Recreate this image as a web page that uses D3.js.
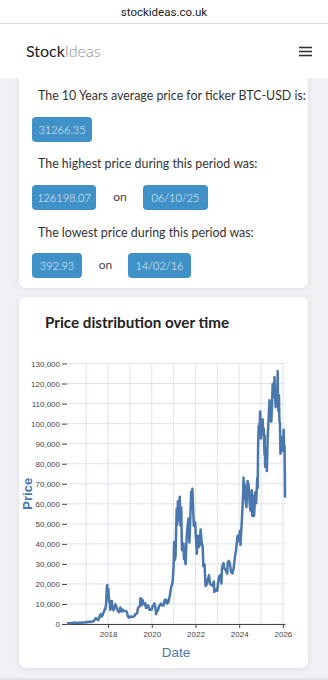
<!DOCTYPE html>
<html>
<head>
<meta charset="utf-8">
<script src="https://cdn.jsdelivr.net/npm/d3@7"></script>
<style>
  body { margin: 0; background: #f0f0f5; }
  svg { display: block; }
</style>
</head>
<body>
<div id="page"></div>
<script>
// BTC-USD close: about two points a month plus the big swings
const prices2016 = [["2016-02-14",393],["2016-03-01",435],["2016-03-15",416],["2016-04-01",417],["2016-04-15",430],["2016-05-01",451],["2016-05-15",456],["2016-06-01",537],["2016-06-16",760],["2016-07-01",676],["2016-07-15",665],["2016-08-02",547],["2016-08-15",567],["2016-09-01",572],["2016-09-15",607],["2016-10-01",614],["2016-10-15",638],["2016-11-01",729],["2016-11-15",712],["2016-12-01",753],["2016-12-15",778]];
const prices2017 = [["2017-01-04",1150],["2017-01-15",820],["2017-02-01",989],["2017-02-15",1008],["2017-03-03",1275],["2017-03-18",970],["2017-04-01",1090],["2017-04-15",1180],["2017-05-01",1420],["2017-05-15",1750],["2017-05-25",2300],["2017-06-11",2960],["2017-06-25",2550],["2017-07-16",1930],["2017-08-01",2720],["2017-08-17",4300],["2017-09-01",4900],["2017-09-15",3700],["2017-10-01",4400],["2017-10-20",6000],["2017-11-08",7400],["2017-11-15",7300],["2017-11-29",10000],["2017-12-07",16500],["2017-12-17",19500],["2017-12-22",14000],["2017-12-31",14000]];
const prices2018 = [["2018-01-06",17500],["2018-01-17",11000],["2018-01-28",11800],["2018-02-06",7000],["2018-02-20",11200],["2018-03-05",11500],["2018-03-18",7800],["2018-04-01",6800],["2018-04-15",8000],["2018-05-05",9800],["2018-05-20",8500],["2018-06-01",7500],["2018-06-15",6500],["2018-06-29",5900],["2018-07-15",6400],["2018-07-25",8200],["2018-08-14",6200],["2018-09-01",7200],["2018-09-15",6500],["2018-10-01",6600],["2018-10-15",6500],["2018-11-01",6400],["2018-11-15",5600],["2018-11-25",3900],["2018-12-15",3200],["2018-12-31",3700]];
const prices2019 = [["2019-01-15",3600],["2019-02-01",3450],["2019-02-15",3600],["2019-03-01",3800],["2019-03-15",3900],["2019-04-02",4900],["2019-04-15",5100],["2019-05-01",5400],["2019-05-15",7900],["2019-06-01",8600],["2019-06-15",8800],["2019-06-26",12900],["2019-07-10",12500],["2019-07-17",9400],["2019-08-06",11800],["2019-08-15",10300],["2019-09-01",9700],["2019-09-15",10300],["2019-09-26",8000],["2019-10-15",8300],["2019-10-26",9300],["2019-11-15",8500],["2019-11-25",7000],["2019-12-15",7100],["2019-12-31",7200]];
const prices2020 = [["2020-01-15",8800],["2020-02-01",9400],["2020-02-13",10300],["2020-03-01",8500],["2020-03-12",4900],["2020-03-15",5400],["2020-04-01",6600],["2020-04-15",6900],["2020-05-01",8800],["2020-05-15",9300],["2020-06-01",10200],["2020-06-15",9500],["2020-07-01",9200],["2020-07-15",9200],["2020-08-01",11800],["2020-08-17",12200],["2020-09-01",11900],["2020-09-08",10200],["2020-10-01",10600],["2020-10-21",12900],["2020-11-05",15500],["2020-11-20",18600],["2020-12-01",19200],["2020-12-16",21300],["2020-12-31",29000]];
const prices2021 = [["2021-01-08",40800],["2021-01-22",32000],["2021-02-01",33500],["2021-02-10",44800],["2021-02-21",57500],["2021-03-01",49600],["2021-03-13",61200],["2021-03-25",51700],["2021-04-13",63500],["2021-04-25",49000],["2021-05-08",58200],["2021-05-19",37000],["2021-06-01",36700],["2021-06-15",40200],["2021-06-22",32500],["2021-07-01",33500],["2021-07-20",29800],["2021-08-01",39900],["2021-08-15",47000],["2021-09-06",52700],["2021-09-21",40700],["2021-10-01",48100],["2021-10-20",66000],["2021-11-01",61000],["2021-11-10",67500],["2021-11-20",59000],["2021-12-04",49000],["2021-12-15",48900],["2021-12-27",50700]];
const prices2022 = [["2022-01-10",41800],["2022-01-23",35000],["2022-02-10",44000],["2022-02-24",38300],["2022-03-10",39400],["2022-03-28",47100],["2022-04-15",40500],["2022-05-01",38500],["2022-05-12",28900],["2022-06-01",29800],["2022-06-18",19000],["2022-07-01",19300],["2022-07-15",20800],["2022-08-14",24300],["2022-09-01",20100],["2022-09-15",19700],["2022-10-01",19300],["2022-10-15",19100],["2022-11-05",21200],["2022-11-10",16000],["2022-11-25",16500],["2022-12-15",17400],["2022-12-31",16500]];
const prices2023 = [["2023-01-14",20900],["2023-02-01",23700],["2023-02-15",24300],["2023-03-10",20200],["2023-03-20",28000],["2023-04-13",30400],["2023-05-01",27600],["2023-05-15",27200],["2023-06-15",25100],["2023-06-23",30700],["2023-07-13",31500],["2023-08-01",29700],["2023-08-18",26000],["2023-09-11",25200],["2023-10-01",27900],["2023-10-24",33900],["2023-11-09",36700],["2023-12-05",44000],["2023-12-18",41300],["2023-12-31",42300]];
const prices2024 = [["2024-01-11",46400],["2024-01-23",39500],["2024-02-15",51900],["2024-03-05",63700],["2024-03-14",73100],["2024-03-20",67900],["2024-04-01",69700],["2024-04-13",63000],["2024-05-01",58300],["2024-05-20",71400],["2024-06-07",69300],["2024-06-24",60300],["2024-07-05",56700],["2024-07-29",66800],["2024-08-05",54000],["2024-08-24",64100],["2024-09-06",53900],["2024-09-27",65800],["2024-10-10",60300],["2024-10-29",72700],["2024-11-05",67800],["2024-11-13",90000],["2024-11-22",98900],["2024-12-05",97700],["2024-12-17",106100],["2024-12-30",92600]];
const prices2025 = [["2025-01-07",96900],["2025-01-13",94500],["2025-01-20",102000],["2025-01-27",102100],["2025-02-03",98000],["2025-02-15",97500],["2025-02-27",84500],["2025-03-02",94000],["2025-03-10",78500],["2025-03-24",88000],["2025-04-08",76300],["2025-04-22",93400],["2025-05-08",103000],["2025-05-22",111600],["2025-06-05",101500],["2025-06-22",101000],["2025-07-03",109600],["2025-07-14",119800],["2025-08-02",113300],["2025-08-13",123300],["2025-09-01",108200],["2025-09-18",117000],["2025-09-26",109700],["2025-10-06",126198],["2025-10-10",113200],["2025-10-17",106500],["2025-10-27",114100],["2025-11-04",101500],["2025-11-13",99700],["2025-11-21",85000],["2025-11-26",90500],["2025-12-03",93500],["2025-12-17",86200],["2025-12-31",87500]];
const prices2026 = [["2026-01-14",96900],["2026-01-20",89500],["2026-01-28",89000],["2026-02-01",78500],["2026-02-03",75500],["2026-02-05",63000]];

const yTickValues = [0, 10000, 20000, 30000, 40000, 50000, 60000, 70000, 80000, 90000, 100000, 110000, 120000, 130000];
const xTickYears = [2018, 2020, 2022, 2024, 2026];
const gridYears = [2017, 2018, 2019, 2020, 2021, 2022, 2023, 2024, 2025, 2026];

const ticker = "BTC-USD";
const avgPrice = "31266.35";
const highPrice = "126198.07", highDate = "06/10/25";
const lowPrice = "392.93", lowDate = "14/02/16";

const W = 328, H = 680;
const blue = "#4a77ae";
const textFont = "Lato, 'Open Sans', sans-serif";

const svg = d3.select("#page").append("svg")
    .attr("width", W)
    .attr("height", H);

const shadow = svg.append("defs").append("filter")
    .attr("id", "shadow")
    .attr("x", "-10%").attr("y", "-10%")
    .attr("width", "120%").attr("height", "120%");
shadow.append("feDropShadow")
    .attr("dx", 0).attr("dy", 1)
    .attr("stdDeviation", 3)
    .attr("flood-color", "#000")
    .attr("flood-opacity", 0.07);

// the two cards
svg.append("rect")
    .attr("x", 19).attr("y", 30)
    .attr("width", 289).attr("height", 258)
    .attr("rx", 7)
    .attr("fill", "#fff")
    .attr("filter", "url(#shadow)");
svg.append("rect")
    .attr("x", 19).attr("y", 297)
    .attr("width", 289).attr("height", 371)
    .attr("rx", 7)
    .attr("fill", "#fff")
    .attr("filter", "url(#shadow)");

// browser bar + site header (drawn over the top of the first card)
svg.append("rect").attr("x", 0).attr("y", 0).attr("width", W).attr("height", 78).attr("fill", "#fff");
svg.append("line")
    .attr("x1", 0).attr("x2", W)
    .attr("y1", 23.5).attr("y2", 23.5)
    .attr("stroke", "#dcdcdc");
svg.append("text")
    .attr("x", W / 2).attr("y", 16)
    .attr("text-anchor", "middle")
    .attr("font-family", "Roboto, sans-serif")
    .attr("font-size", 11.5)
    .attr("fill", "#1a1a1a")
    .text("stockideas.co.uk");

const brand = svg.append("text")
    .attr("x", 26).attr("y", 57)
    .attr("font-family", textFont)
    .attr("font-size", 16);
brand.append("tspan").attr("fill", "#222").text("Stock");
brand.append("tspan").attr("fill", "#8a8a8a").attr("font-weight", 300).text("Ideas");

svg.append("g")
    .selectAll("line")
    .data([47.5, 51.5, 55.5])
    .join("line")
    .attr("x1", 299).attr("x2", 312)
    .attr("y1", d => d).attr("y2", d => d)
    .attr("stroke", "#333")
    .attr("stroke-width", 1.6);

// summary card text
const sentences = [
    { y: 99.5, text: `The 10 Years average price for ticker ${ticker} is:` },
    { y: 168, text: "The highest price during this period was:" },
    { y: 236.5, text: "The lowest price during this period was:" }
];
svg.append("g")
    .selectAll("text")
    .data(sentences)
    .join("text")
    .attr("x", 38).attr("y", d => d.y)
    .attr("font-family", textFont)
    .attr("font-size", 12.4)
    .attr("fill", "#333")
    .text(d => d.text);

const badges = [
    { x: 32, y: 117, w: 60, text: avgPrice },
    { x: 32, y: 185, w: 64, text: highPrice },
    { x: 143, y: 185, w: 65, text: highDate },
    { x: 32, y: 253, w: 50, text: lowPrice },
    { x: 128, y: 253, w: 63, text: lowDate }
];
const badge = svg.append("g")
    .selectAll("g")
    .data(badges)
    .join("g")
    .attr("transform", d => `translate(${d.x},${d.y})`);
badge.append("rect")
    .attr("width", d => d.w).attr("height", 25)
    .attr("rx", 4)
    .attr("fill", "#4091c8");
badge.append("text")
    .attr("x", d => d.w / 2).attr("y", 16.5)
    .attr("text-anchor", "middle")
    .attr("font-family", textFont)
    .attr("font-size", 11)
    .attr("font-weight", 300)
    .attr("fill", "#eef5fb")
    .text(d => d.text);

svg.append("g")
    .selectAll("text")
    .data([{ x: 120, y: 201 }, { x: 105.5, y: 269 }])
    .join("text")
    .attr("x", d => d.x).attr("y", d => d.y)
    .attr("text-anchor", "middle")
    .attr("font-family", textFont)
    .attr("font-size", 12)
    .attr("fill", "#444")
    .text("on");

// chart card
svg.append("text")
    .attr("x", 45).attr("y", 327.5)
    .attr("font-family", textFont)
    .attr("font-size", 15.2)
    .attr("font-weight", 700)
    .attr("fill", "#222")
    .text("Price distribution over time");

const parseDate = d3.timeParse("%Y-%m-%d");
const data = [].concat(prices2016, prices2017, prices2018, prices2019, prices2020,
        prices2021, prices2022, prices2023, prices2024, prices2025, prices2026)
    .map(([d, v]) => ({ date: parseDate(d), price: v }));

const xScale = d3.scaleTime()
    .domain(d3.extent(data, d => d.date))
    .range([67, 285]);
const yScale = d3.scaleLinear()
    .domain([0, 130000])
    .range([624, 363.5]);

const chart = svg.append("g").attr("class", "chart");

// grid
chart.append("g")
    .selectAll("line")
    .data(gridYears)
    .join("line")
    .attr("x1", d => xScale(new Date(d, 0, 1))).attr("x2", d => xScale(new Date(d, 0, 1)))
    .attr("y1", yScale(130000)).attr("y2", yScale(0))
    .attr("stroke", "#dfe2f2");
chart.append("g")
    .selectAll("line")
    .data(yTickValues)
    .join("line")
    .attr("x1", xScale.range()[0]).attr("x2", xScale.range()[1])
    .attr("y1", d => yScale(d)).attr("y2", d => yScale(d))
    .attr("stroke", "#dfe2f2");

// axes
const yAxis = chart.append("g")
    .attr("transform", `translate(${xScale.range()[0]},0)`)
    .call(d3.axisLeft(yScale)
        .tickValues(yTickValues)
        .tickFormat(d3.format(","))
        .tickSize(5)
        .tickPadding(2));
yAxis.select(".domain").remove();

const xAxis = chart.append("g")
    .attr("transform", `translate(0,${yScale(0)})`)
    .call(d3.axisBottom(xScale)
        .tickValues(xTickYears.map(y => new Date(y, 0, 1)))
        .tickFormat(d3.timeFormat("%Y"))
        .tickSize(4)
        .tickSizeOuter(0)
        .tickPadding(3));

chart.selectAll(".tick text")
    .attr("font-family", "'Liberation Sans', Arial, sans-serif")
    .attr("font-size", 8)
    .attr("fill", "#444");
chart.selectAll(".tick line, .domain").attr("stroke", "#444");

// price line
chart.append("path")
    .datum(data)
    .attr("fill", "none")
    .attr("stroke", blue)
    .attr("stroke-width", 2.5)
    .attr("stroke-linejoin", "round")
    .attr("d", d3.line()
        .x(d => xScale(d.date))
        .y(d => yScale(d.price)));

// axis titles
chart.append("text")
    .attr("x", 176).attr("y", 656.5)
    .attr("text-anchor", "middle")
    .attr("font-family", "'Liberation Sans', Arial, sans-serif")
    .attr("font-size", 13.5)
    .attr("fill", blue)
    .text("Date");
chart.append("text")
    .attr("transform", `translate(32,${(yScale(0) + yScale(130000)) / 2}) rotate(-90)`)
    .attr("text-anchor", "middle")
    .attr("font-family", "'Liberation Sans', Arial, sans-serif")
    .attr("font-size", 13)
    .attr("font-weight", 700)
    .attr("fill", blue)
    .text("Price");

// bottom edge of the screenshot
svg.append("rect").attr("x", 0).attr("y", 678).attr("width", W).attr("height", 2).attr("fill", "#e2e2e7");
</script>
</body>
</html>
